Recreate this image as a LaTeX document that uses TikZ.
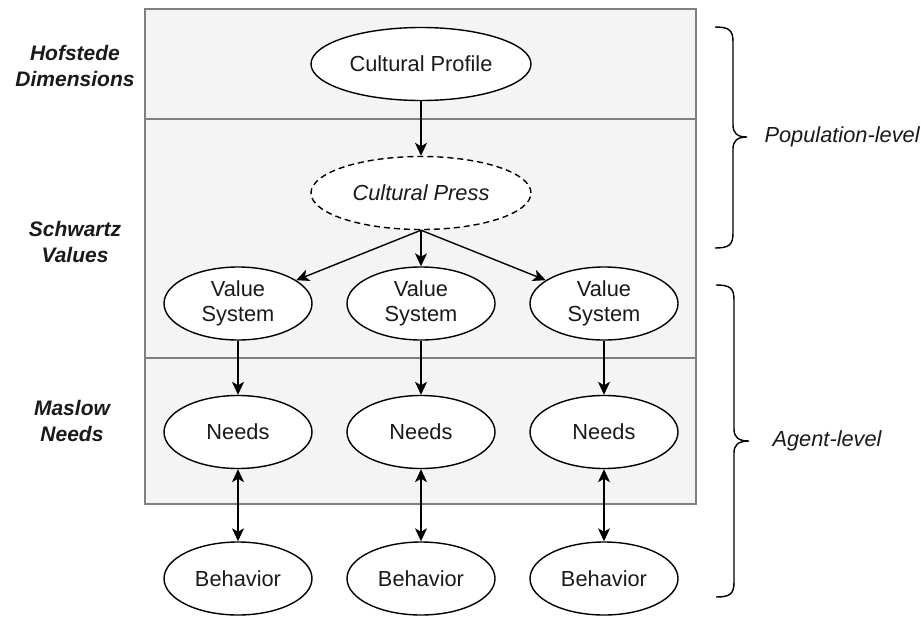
\documentclass[tikz,border=0pt]{standalone}
\usepackage{fontspec}
\setmainfont{Liberation Sans}
\usetikzlibrary{shapes.geometric,arrows.meta}
\definecolor{panelfill}{HTML}{F4F4F4}
\definecolor{panelline}{HTML}{808080}
\definecolor{ink}{HTML}{1A1A1A}
\begin{document}
\begin{tikzpicture}[x=1pt,y=-1pt,
  every node/.style={font=\fontsize{21.8}{25.5}\selectfont, text=ink},
  ell/.style={ellipse, draw=black, line width=1.4pt, fill=white, inner sep=0pt, align=center},
  bigell/.style={ell, minimum width=220pt, minimum height=73pt},
  smell/.style={ell, minimum width=148pt, minimum height=73pt},
  arr/.style={line width=1.4pt, draw=black, -{Stealth[length=13pt,width=12pt,inset=3.5pt]}},
  darr/.style={line width=1.4pt, draw=black, {Stealth[length=13pt,width=12pt,inset=3.5pt]}-{Stealth[length=13pt,width=12pt,inset=3.5pt]}},
  layerlbl/.style={align=center, font=\fontsize{21}{25.5}\selectfont\bfseries\itshape},
  scopelbl/.style={anchor=west, font=\fontsize{21.8}{25.5}\selectfont\itshape},
  panel/.style={fill=panelfill, draw=panelline, line width=1.5pt},
  divider/.style={draw=panelline, line width=1.2pt},
  bracestyle/.style={draw=black, line width=1.4pt}
]
\useasboundingbox (0,0) rectangle (921,616);
\fill[white] (0,0) rectangle (921,616);

% panel
\draw[panel] (145,9) rectangle (696,504);
\draw[divider] (145,119) -- (696,119);
\draw[divider] (145,358) -- (696,358);

% layer labels
\node[layerlbl] (hof) at (75,66) {Hofstede\\Dimensions};
\node[layerlbl] (sch) at (75,242) {Schwartz\\Values};
\node[layerlbl] (mas) at (72,421) {Maslow\\Needs};

% nodes
\node[bigell] (prof) at (421,64) {Cultural Profile};
\node[bigell, dashed, dash pattern=on 6pt off 4pt] (press) at (421,193) {\itshape Cultural Press};

\node[smell] (vs1) at (238,303.5) {Value\\System};
\node[smell] (vs2) at (421,303.5) {Value\\System};
\node[smell] (vs3) at (604,303.5) {Value\\System};

\node[smell] (n1) at (238,432) {Needs};
\node[smell] (n2) at (421,432) {Needs};
\node[smell] (n3) at (604,432) {Needs};

\node[smell] (b1) at (238,578.5) {Behavior};
\node[smell] (b2) at (421,578.5) {Behavior};
\node[smell] (b3) at (604,578.5) {Behavior};

% connectors
\draw[arr] (prof) -- (press);
\draw[arr] (press.south) -- (vs1);
\draw[arr] (press.south) -- (vs2);
\draw[arr] (press.south) -- (vs3);
\draw[arr] (vs1) -- (n1);
\draw[arr] (vs2) -- (n2);
\draw[arr] (vs3) -- (n3);
\draw[darr] (n1) -- (b1);
\draw[darr] (n2) -- (b2);
\draw[darr] (n3) -- (b3);

% braces
\draw[bracestyle] (715,27) .. controls (729,27) and (733,30) .. (733,42) -- (733,125)
  .. controls (733,133) and (737,137) .. (747,137)
  .. controls (737,137) and (733,141) .. (733,149) -- (733,233)
  .. controls (733,245) and (729,248) .. (715,248);
\node[scopelbl] (pop) at (761,137) {Population-level};

\draw[bracestyle] (716,285) .. controls (730,285) and (734,288) .. (734,300) -- (734,429)
  .. controls (734,437) and (738,441) .. (749,441)
  .. controls (738,441) and (734,445) .. (734,453) -- (734,582)
  .. controls (734,594) and (730,597) .. (716,597);
\node[scopelbl] (agt) at (769,441) {Agent-level};
\end{tikzpicture}
\end{document}
